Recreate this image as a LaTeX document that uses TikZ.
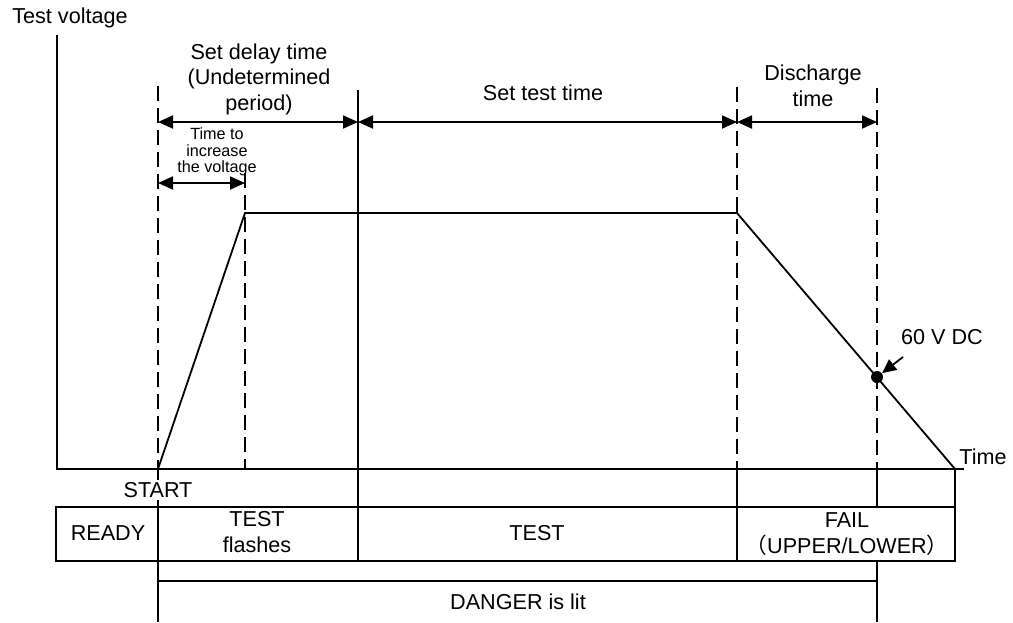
\documentclass[tikz,border=0pt]{standalone}
\usepackage{fontspec}
\setmainfont{Liberation Sans}
\newfontfamily\cjk{Noto Sans CJK SC}
\usepackage{tikz}
\usetikzlibrary{arrows.meta,positioning,calc}
\tikzset{
    wave/.style={line width=0.9pt, line join=miter},
    guide/.style={line width=0.9pt, dash pattern=on 7.5pt off 3.5pt},
    frame/.style={line width=1pt},
    span/.style={{Triangle[length=7.5pt,width=6.5pt]}-{Triangle[length=7.5pt,width=6.5pt]},
        line width=0.9pt},
    callout/.style={-{Triangle[length=7pt,width=6.5pt]}, line width=0.9pt},
    tlabel/.style={font=\fontsize{10.8}{12.75}\selectfont, align=center, inner sep=1pt},
    slabel/.style={font=\fontsize{8.1}{8.25}\selectfont, align=center, inner sep=1pt},
}

\begin{document}
\begin{tikzpicture}[x=0.5pt, y=-0.5pt]

    \useasboundingbox (0,0) rectangle (1013,622);

    % ── Axes ───────────────────────────────────────────────────────────────
    \coordinate (ytop)  at (57,35);
    \coordinate (orig)  at (57,469);
    \coordinate (xend)  at (964,469);
    \draw[frame] (ytop) -- (orig) -- (xend);
    \node[tlabel] (ylab) at (70,18) {Test voltage};
    \node[tlabel, anchor=west] (xlab) at (957,457) {Time};

    % ── Time marks ─────────────────────────────────────────────────────────
    \coordinate (start)  at (158,469);
    \coordinate (rampend) at (245,469);
    \coordinate (delayend) at (358,469);
    \coordinate (testend) at (737,469);
    \coordinate (dischend) at (877,469);
    \coordinate (zero)   at (955,469);

    \draw[guide] (158,86)  -- (start);
    \draw[guide] (245,173) -- (rampend);
    \draw[frame] (358,90)  -- (358,561);
    \draw[guide] (737,87)  -- (testend);
    \draw[guide] (877,88)  -- (dischend);

    % ── Voltage curve ──────────────────────────────────────────────────────
    \coordinate (rise)  at (245,213);
    \coordinate (hold)  at (737,213);
    \draw[wave] (start) -- (rise) -- (hold) -- (zero);

    \node[circle, fill, inner sep=0pt, minimum size=6pt] (vdc) at (877,377) {};
    \node[tlabel] (vdclab) at (942,337) {60 V DC};
    \coordinate (vdctail) at (903,357);
    \draw[callout] (vdctail) -- (vdc);

    % ── Period arrows ──────────────────────────────────────────────────────
    \coordinate (a1) at (158,122);
    \coordinate (a2) at (358,122);
    \coordinate (a3) at (737,122);
    \coordinate (a4) at (877,122);
    \coordinate (b1) at (158,183);
    \coordinate (b2) at (245,183);
    \draw[span] (a1) -- (a2);
    \draw[span] (a2) -- (a3);
    \draw[span] (a3) -- (a4);
    \draw[span] (b1) -- (b2);

    \node[tlabel] (delaylab) at (259,79) {Set delay time\\(Undetermined\\period)};
    \node[tlabel] (testlab)  at (543,93) {Set test time};
    \node[tlabel] (dischlab) at (813,86) {Discharge\\time};
    \node[slabel] (ramplab)  at (217,152) {Time to\\increase\\the voltage};

    % ── Status row ─────────────────────────────────────────────────────────
    \draw[frame] (start) -- (158,622);
    \draw[frame] (testend) -- (737,561);
    \draw[frame] (dischend) -- (877,507);
    \draw[frame] (877,561) -- (877,622);
    \draw[frame] (zero) -- (955,561);
    \draw[frame] (56,507) rectangle (955,561);
    \draw[frame] (158,581) -- (877,581);

    \node[tlabel, fill=white] (startlab) at (158,490) {START};
    \node[tlabel] (ready)   at (108,533) {READY};
    \node[tlabel] (flash)   at (257,532) {TEST\\flashes};
    \node[tlabel] (testing) at (537,533) {TEST};
    \node[tlabel] (fail)    at (847,534) {FAIL\\{\cjk （}UPPER/LOWER{\cjk ）}};
    \node[tlabel] (danger)  at (518,602) {DANGER is lit};

\end{tikzpicture}
\end{document}
